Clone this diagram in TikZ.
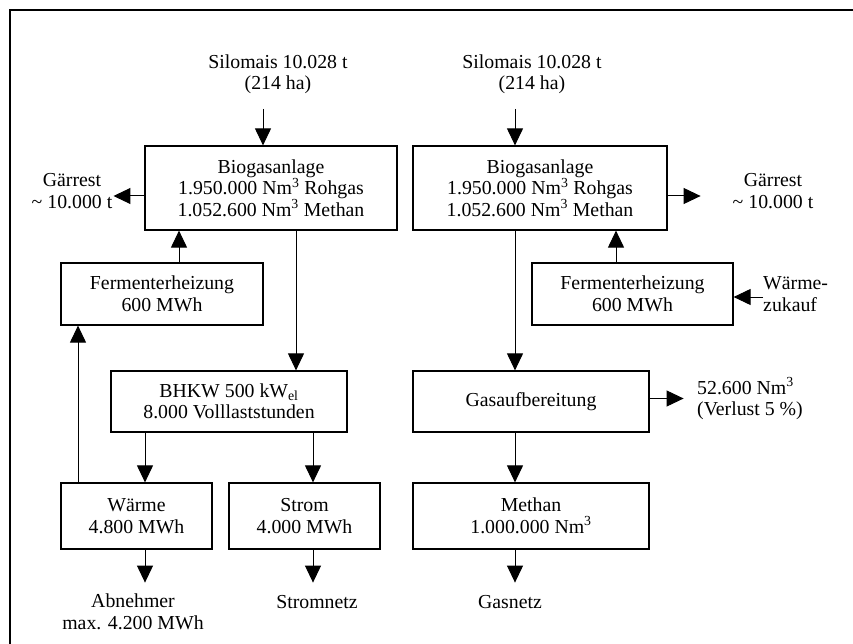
\documentclass[tikz,border=0pt]{standalone}
\usepackage{fontspec}
\setmainfont{Liberation Serif}
\usepackage{tikz}
\usetikzlibrary{
  arrows.meta,
  calc
}
\tikzset{
  box/.style={draw, line width=1.2pt, inner sep=0pt, align=center},
  lbl/.style={inner sep=1pt, align=center},
  flow/.style={line width=1pt, -{Triangle[length=17pt,width=16pt]}}
}

\begin{document}
\begin{tikzpicture}[x=1pt, y=-1pt, font=\fontsize{19.8}{21.5}\selectfont]
\useasboundingbox (0,0) rectangle (853,644);
\draw[line width=1.4pt] (853,10) -- (10,10) -- (10,644);
% Verstromung
\node[lbl] (sil1) at (278,74) {Silomais 10.028 t\\(214 ha)};
\node[box, minimum width=252pt, minimum height=84pt] (biogasL) at (271,188)
  {Biogasanlage\\1.950.000 Nm\textsuperscript{3} Rohgas\\1.052.600 Nm\textsuperscript{3} Methan};
\node[lbl] (gaerL) at (72,191) {Gärrest\\\textasciitilde\ 10.000 t};
\node[box, minimum width=202pt, minimum height=62pt] (fermL) at (162,294) {Fermenterheizung\\600 MWh};
\node[box, minimum width=236pt, minimum height=61pt] (bhkw) at (229,401.5)
  {BHKW 500 kW\textsubscript{el}\\8.000 Volllaststunden};
\node[box, minimum width=151pt, minimum height=66pt] (waerme) at (136.5,516) {Wärme\\4.800 MWh};
\node[box, minimum width=151pt, minimum height=66pt] (strom) at (304.5,516) {Strom\\4.000 MWh};
\node[lbl] (abnehmer) at (133,612) {Abnehmer\\max. 4.200 MWh};
\node[lbl] (stromnetz) at (317,602) {Stromnetz};

\draw[flow] ([xshift=-15,yshift=-14]sil1.south) -- ([xshift=-15]sil1.south |- biogasL.north);
\draw[flow] ([yshift=-8]biogasL.west) -- ([yshift=-8]biogasL.west -| gaerL.east);
\draw[flow] ([xshift=17]fermL.north) -- ([xshift=17]fermL.north |- biogasL.south);
\draw[flow] ([xshift=25]biogasL.south) -- ([xshift=25]biogasL.south |- bhkw.north);
\draw[flow] ([xshift=-84]bhkw.south) -- ([xshift=-84]bhkw.south |- waerme.north);
\draw[flow] ([xshift=84]bhkw.south) -- ([xshift=84]bhkw.south |- strom.north);
\draw[flow] ([xshift=-58.5]waerme.north) -- ([xshift=-58.5]waerme.north |- fermL.south);
\draw[flow] ([xshift=8.5]waerme.south) -- ++(0,33);
\draw[flow] ([xshift=8.5]strom.south) -- ++(0,33);

% Einspeisung
\node[lbl] (sil2) at (532,74) {Silomais 10.028 t\\(214 ha)};
\node[box, minimum width=254pt, minimum height=84pt] (biogasR) at (540,188)
  {Biogasanlage\\1.950.000 Nm\textsuperscript{3} Rohgas\\1.052.600 Nm\textsuperscript{3} Methan};
\node[lbl] (gaerR) at (773,191) {Gärrest\\\textasciitilde\ 10.000 t};
\node[box, minimum width=201pt, minimum height=62pt] (fermR) at (632.5,294) {Fermenterheizung\\600 MWh};
\node[lbl, anchor=west, align=left, inner sep=0pt] (zukauf) at (763,294) {Wärme-\\zukauf};
\node[box, minimum width=236pt, minimum height=61pt] (gasauf) at (531,401.5) {Gasaufbereitung};
\node[lbl, anchor=west, align=left] (verlust) at (696,399) {52.600 Nm\textsuperscript{3}\\(Verlust 5~\%)};
\node[box, minimum width=236pt, minimum height=66pt] (methan) at (531,516) {Methan\\1.000.000 Nm\textsuperscript{3}};
\node[lbl] (gasnetz) at (510,602) {Gasnetz};

\draw[flow] ([xshift=-17,yshift=-14]sil2.south) -- ([xshift=-17]sil2.south |- biogasR.north);
\draw[flow] ([yshift=-8]biogasR.east) -- ++(33,0);
\draw[flow] ([xshift=-16.5]fermR.north) -- ([xshift=-16.5]fermR.north |- biogasR.south);
\draw[flow] ([yshift=-3]zukauf.west) -- ([yshift=-3]zukauf.west -| fermR.east);
\draw[flow] ([xshift=-25]biogasR.south) -- ([xshift=-25]biogasR.south |- gasauf.north);
\draw[flow] ([yshift=3]gasauf.east) -- ++(34,0);
\draw[flow] ([xshift=-16]gasauf.south) -- ([xshift=-16]gasauf.south |- methan.north);
\draw[flow] ([xshift=-16]methan.south) -- ++(0,33);
\end{tikzpicture}
\end{document}
